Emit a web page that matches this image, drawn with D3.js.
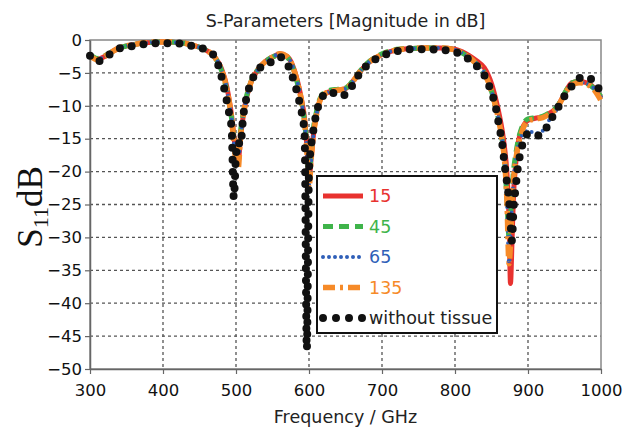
<!DOCTYPE html>
<html>
<head>
<meta charset="utf-8">
<script src="https://cdn.jsdelivr.net/npm/d3@7"></script>
<style>
  body { margin: 0; background: #fff; }
  text { font-family: "DejaVu Sans", Verdana, sans-serif; }
</style>
</head>
<body>
<div id="chart"></div>
<script>
// frequency grid (GHz)
const freq = [300, 310, 320, 330, 340, 350, 360, 370, 380, 390, 400, 410, 420, 430, 440, 450, 460, 470, 480, 485,
  490, 494, 497, 500, 503, 506, 510, 515, 520, 530, 540, 550, 560, 570, 575, 580, 585, 590, 594, 597,
  600, 603, 606, 610, 615, 620, 630, 640, 650, 660, 670, 680, 690, 700, 710, 720, 740, 760, 780, 800,
  810, 820, 830, 840, 845, 850, 855, 860, 865, 868, 871, 874, 876, 878, 880, 883, 886, 890, 895, 900,
  910, 920, 930, 940, 950, 960, 970, 980, 990, 1000];

const s15 = [-2.3, -2.9, -2.5, -1.8, -1.2, -0.9, -0.7, -0.5, -0.4, -0.3, -0.3, -0.3, -0.4, -0.5, -0.8, -1.1, -1.6, -2.5, -4.3, -6.0,
  -8.6, -11.5, -14.5, -17.5, -18.5, -15.0, -11.5, -8.5, -6.6, -4.5, -3.3, -2.6, -2.1, -2.5, -3.2, -4.6, -6.6, -9.2, -12.0, -16.0,
  -21.0, -18.0, -14.5, -11.5, -9.2, -8.3, -7.8, -7.6, -7.4, -6.3, -4.8, -3.6, -2.8, -2.2, -1.8, -1.5, -1.3, -1.2, -1.2, -1.4,
  -1.8, -2.4, -3.2, -4.2, -5.2, -6.6, -8.6, -11.0, -14.0, -16.5, -20.0, -27.0, -37.0, -31.0, -24.0, -19.0, -16.0, -14.0, -12.8, -12.2,
  -11.9, -11.7, -11.1, -10.2, -8.2, -6.5, -6.3, -6.5, -7.2, -8.8];

const s45 = [-2.2, -2.8, -2.4, -1.8, -1.2, -0.9, -0.7, -0.5, -0.4, -0.3, -0.3, -0.3, -0.4, -0.5, -0.8, -1.1, -1.6, -2.5, -4.6, -6.5,
  -9.2, -12.0, -15.0, -17.5, -17.0, -14.0, -11.0, -8.3, -6.5, -4.5, -3.3, -2.6, -2.2, -2.6, -3.4, -4.9, -7.0, -9.6, -12.5, -16.0,
  -21.0, -17.0, -13.5, -11.0, -8.9, -8.1, -7.6, -7.5, -7.3, -6.2, -4.7, -3.5, -2.7, -2.1, -1.7, -1.4, -1.3, -1.2, -1.2, -1.5,
  -2.0, -2.7, -3.7, -5.0, -6.2, -7.8, -9.8, -12.3, -15.5, -18.5, -24.0, -30.0, -27.0, -23.0, -20.0, -17.5, -15.5, -13.8, -12.5, -12.0,
  -11.8, -11.6, -11.0, -10.1, -8.1, -6.5, -6.3, -6.6, -7.3, -8.6];

const s65 = [-2.4, -2.9, -2.5, -1.8, -1.2, -0.9, -0.7, -0.5, -0.4, -0.3, -0.3, -0.3, -0.4, -0.5, -0.8, -1.1, -1.6, -2.5, -4.5, -6.3,
  -9.0, -12.0, -15.5, -18.5, -19.0, -15.0, -11.5, -8.5, -6.6, -4.5, -3.3, -2.6, -2.1, -2.5, -3.3, -4.8, -6.8, -9.5, -12.5, -16.5,
  -22.0, -18.0, -14.5, -11.5, -9.2, -8.3, -7.8, -7.6, -7.4, -6.3, -4.8, -3.6, -2.8, -2.2, -1.8, -1.5, -1.3, -1.2, -1.2, -1.5,
  -2.0, -2.7, -3.7, -5.0, -6.2, -7.8, -9.8, -12.3, -15.5, -18.5, -24.0, -34.0, -30.0, -25.0, -21.5, -18.5, -16.5, -15.0, -14.0, -13.8,
  -14.2, -13.8, -12.0, -10.5, -8.4, -6.8, -6.4, -6.6, -7.3, -8.7];

const s135 = [-2.3, -3.0, -2.5, -1.8, -1.2, -0.9, -0.7, -0.5, -0.4, -0.3, -0.3, -0.3, -0.4, -0.5, -0.8, -1.1, -1.6, -2.5, -4.5, -6.3,
  -9.0, -12.0, -15.5, -18.5, -19.5, -15.0, -11.5, -8.5, -6.6, -4.5, -3.3, -2.6, -2.1, -2.5, -3.3, -4.8, -6.8, -9.5, -12.5, -16.5,
  -22.5, -18.0, -14.5, -11.5, -9.2, -8.3, -7.8, -7.6, -7.4, -6.3, -4.8, -3.6, -2.8, -2.2, -1.8, -1.5, -1.3, -1.2, -1.2, -1.5,
  -2.0, -2.7, -3.7, -5.0, -6.2, -7.8, -9.8, -12.3, -15.5, -18.5, -24.0, -34.0, -31.0, -25.0, -21.5, -18.5, -16.3, -14.5, -13.0, -12.3,
  -12.0, -11.8, -11.2, -10.3, -8.3, -6.8, -6.5, -6.7, -7.5, -9.2];

const noTissue = [-2.4, -3.3, -2.6, -2.0, -1.3, -1.0, -0.9, -0.7, -0.6, -0.5, -0.5, -0.5, -0.5, -0.7, -0.9, -1.1, -1.6, -2.4, -5.5, -8.0,
  -10.8, -13.5, -24.0, -17.5, -15.5, -16.0, -11.5, -8.5, -6.6, -4.6, -3.6, -3.3, -2.6, -3.5, -5.0, -6.4, -8.6, -11.0, -14.5, -47.0,
  -20.0, -16.0, -13.7, -11.2, -9.3, -8.4, -7.9, -8.5, -8.3, -6.8, -5.0, -3.8, -3.0, -2.4, -2.0, -1.7, -1.4, -1.4, -1.5, -1.8,
  -2.3, -3.0, -4.0, -5.3, -6.5, -8.0, -9.8, -12.8, -16.0, -19.0, -21.5, -24.5, -27.5, -30.5, -26.0, -22.5, -19.5, -17.0, -15.0, -14.3,
  -14.6, -14.2, -12.3, -10.5, -8.5, -7.0, -5.8, -5.6, -6.3, -8.0];

const seriesNames = ["15", "45", "65", "135", "without tissue"];
const seriesValues = [s15, s45, s65, s135, noTissue];
const xTicks = [300, 400, 500, 600, 700, 800, 900, 1000];
const yTicks = [0, -5, -10, -15, -20, -25, -30, -35, -40, -45, -50];

const styles = [
  { color: "#e8322f", width: 5, dash: null, cap: "butt" },
  { color: "#3fb44a", width: 5, dash: "10 6", cap: "butt" },
  { color: "#2f5fb8", width: 4, dash: "0 6", cap: "round" },
  { color: "#f68a28", width: 5.5, dash: "12 5 3 5", cap: "butt" },
  { color: "#111111", width: 8, dash: "0 12", cap: "round" }
];

const margin = { top: 40, right: 22, bottom: 66, left: 90 };
const W = 623, H = 435;
const width = W - margin.left - margin.right;
const height = H - margin.top - margin.bottom;

const svg = d3.select("#chart").append("svg")
  .attr("width", W)
  .attr("height", H);

svg.append("text")
  .attr("x", margin.left + width / 2)
  .attr("y", 27)
  .attr("text-anchor", "middle")
  .style("font-size", "17.5px")
  .attr("fill", "#222")
  .text("S-Parameters [Magnitude in dB]");

const g = svg.append("g")
  .attr("transform", `translate(${margin.left},${margin.top})`);

const x = d3.scaleLinear().domain([300, 1000]).range([0, width]);
const y = d3.scaleLinear().domain([-50, 0]).range([height, 0]);

// grid
g.append("g")
  .selectAll("line")
  .data(xTicks.slice(1, -1))
  .join("line")
  .attr("x1", d => x(d)).attr("x2", d => x(d))
  .attr("y1", 0).attr("y2", height)
  .attr("stroke", "#555").attr("stroke-width", 1.3)
  .attr("stroke-dasharray", "3 3");

g.append("g")
  .selectAll("line")
  .data(yTicks.slice(1, -1))
  .join("line")
  .attr("x1", 0).attr("x2", width)
  .attr("y1", d => y(d)).attr("y2", d => y(d))
  .attr("stroke", "#555").attr("stroke-width", 1.3)
  .attr("stroke-dasharray", "3 3");

// frame
g.append("rect")
  .attr("width", width).attr("height", height)
  .attr("fill", "none")
  .attr("stroke", "#888").attr("stroke-width", 1.5);

// axes
const xAxis = g.append("g")
  .attr("transform", `translate(0,${height})`)
  .call(d3.axisBottom(x).tickValues(xTicks).tickFormat(d3.format("d")).tickSize(5).tickSizeOuter(0).tickPadding(10));
const yAxis = g.append("g")
  .call(d3.axisLeft(y).tickValues(yTicks).tickSize(5).tickSizeOuter(0).tickPadding(3));

[xAxis, yAxis].forEach(a => {
  a.select(".domain").attr("stroke", "#666").attr("stroke-width", 1.5);
  a.selectAll(".tick line").attr("stroke", "#666").attr("stroke-width", 1.2);
  a.selectAll("text")
    .style("font-family", '"DejaVu Sans", Verdana, sans-serif')
    .style("font-size", "16.5px")
    .attr("fill", "#111");
});

// curves
const line = d3.line()
  .x(d => x(d[0]))
  .y(d => y(d[1]))
  .curve(d3.curveMonotoneX);

seriesValues.forEach((vals, i) => {
  const pts = freq.map((f, j) => [f, vals[j]]);
  const st = styles[i];
  g.append("path")
    .datum(pts)
    .attr("d", line)
    .attr("fill", "none")
    .attr("stroke", st.color)
    .attr("stroke-width", st.width)
    .attr("stroke-linecap", st.cap)
    .attr("stroke-linejoin", "round")
    .attr("stroke-dasharray", st.dash);
});

// legend
const lg = svg.append("g").attr("transform", "translate(317,176)");
lg.append("rect")
  .attr("width", 180).attr("height", 157)
  .attr("fill", "#fff")
  .attr("stroke", "#111").attr("stroke-width", 2);

seriesNames.forEach((name, i) => {
  const st = styles[i];
  const yy = 20 + i * 30.5;
  lg.append("line")
    .attr("x1", 6).attr("x2", 46)
    .attr("y1", yy).attr("y2", yy)
    .attr("stroke", st.color)
    .attr("stroke-width", st.width)
    .attr("stroke-linecap", st.cap)
    .attr("stroke-dasharray", i === 4 ? "0 13" : st.dash);
  lg.append("text")
    .attr("x", 52)
    .attr("y", yy + 6)
    .style("font-size", "17.5px")
    .attr("fill", i === 4 ? "#222" : st.color)
    .text(name);
});

// axis titles
svg.append("text")
  .attr("x", margin.left + width / 2)
  .attr("y", 423)
  .attr("text-anchor", "middle")
  .style("font-size", "17.5px")
  .attr("fill", "#222")
  .text("Frequency / GHz");

const yl = svg.append("text")
  .attr("transform", "translate(42,207) rotate(-90)")
  .attr("text-anchor", "middle")
  .style("font-family", '"Liberation Serif", "Times New Roman", serif')
  .style("font-size", "35px")
  .attr("fill", "#111");
yl.append("tspan").text("S");
yl.append("tspan").attr("dy", 6).style("font-size", "22px").text("11");
yl.append("tspan").attr("dy", -6).text("dB");
</script>
</body>
</html>
